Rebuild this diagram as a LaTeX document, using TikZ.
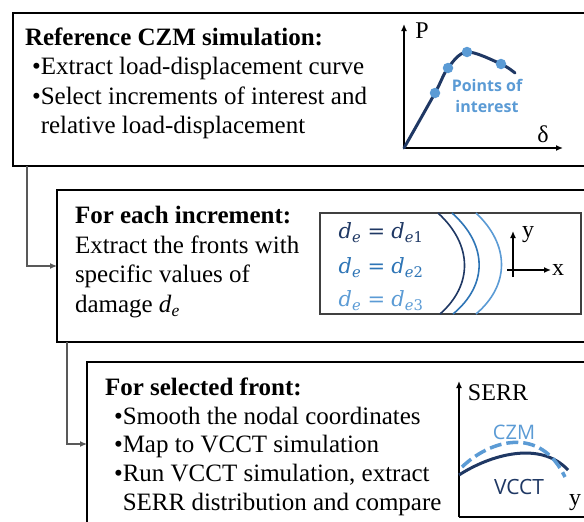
\documentclass[tikz,border=0pt]{standalone}
\usepackage{fontspec}
\setmainfont{Liberation Serif}
\newfontfamily\plotfont{Open Sans}
\newfontfamily\levelfont{DejaVu Serif}
\usetikzlibrary{arrows.meta,positioning}
\definecolor{Navy}{HTML}{1F3864}
\definecolor{MidBlue}{HTML}{2E75B6}
\definecolor{SkyBlue}{HTML}{5B9BD5}
\definecolor{LinkGray}{HTML}{595959}
\definecolor{FrameGray}{HTML}{404040}
\newcommand{\dlevel}[1]{\textit{d}\textsubscript{\textit{e}}\hspace{0.3em}=\hspace{0.3em}\textit{d}\textsubscript{\textit{e}#1}}

\begin{document}
\begin{tikzpicture}[x=1pt,y=-1pt,every node/.style={inner sep=0pt,outer sep=0pt},stage/.style={draw=black,line width=2.6pt,fill=white,anchor=north west},link/.style={draw=LinkGray,line width=1.1pt,-{Latex[length=7pt,width=6pt]}},axis/.style={draw=black,line width=1.6pt,-{Latex[length=7pt,width=6pt]}},body/.style={font=\fontsize{25}{29.3}\selectfont,align=left,anchor=north west},front/.style={line width=1.6pt},poi/.style={circle,fill=SkyBlue,minimum size=10.5pt},plotlabel/.style={font=\fontsize{24}{24}\selectfont},level/.style={font=\levelfont\fontsize{21}{21}\selectfont}]
\useasboundingbox (0,0) rectangle (584,522);
\clip (0,0) rectangle (584,522);
\fill[white] (0,0) rectangle (584,522);
% the three stages
\node[stage,minimum width=620pt,minimum height=153pt] (czm) at (13,13) {};
\node[stage,minimum width=560pt,minimum height=152pt] (incr) at (57,190) {};
\node[stage,minimum width=530pt,minimum height=164pt] (sel) at (87,362) {};
\draw[link] ([xshift=14pt]czm.south west) |- (incr.west);
\draw[link] ([xshift=10pt]incr.south west) |- (sel.west);
% stage texts
\node[body] (czmtext) at (25,28) {\textbf{Reference CZM simulation:}\\[0pt]\hspace*{7pt}\textbullet Extract load-displacement curve\\\hspace*{7pt}\textbullet Select increments of interest and\\\hspace*{7pt}\phantom{\textbullet}relative load-displacement};
\node[body,font=\fontsize{25}{29.7}\selectfont] (incrtext) at (75,206) {\textbf{For each increment:}\\Extract the fronts with\\specific values of\\damage \textit{d}\textsubscript{\textit{e}}};
\node[body,font=\fontsize{25}{28.6}\selectfont] (seltext) at (105,378) {\textbf{For selected front:}\\\hspace*{9pt}\textbullet Smooth the nodal coordinates\\\hspace*{9pt}\textbullet Map to VCCT simulation\\\hspace*{9pt}\textbullet Run VCCT simulation, extract\\\hspace*{9pt}\phantom{\textbullet}SERR distribution and compare};
% load-displacement plot
\coordinate (o1) at (404,148);
\draw[axis] (o1) -- (404,24);
\draw[axis] (o1) -- (563,148);
\node[plotlabel] (pl) at (422,31) {P};
\node[plotlabel] (dl) at (543,134) {δ};
\draw[Navy,line width=3pt,line cap=round] plot[smooth,tension=0.55] coordinates {(404,148) (435,93) (448,68) (467,52) (501,64) (515,73)};
\node[poi] (p1) at (435,93) {}; \node[poi] (p2) at (448,68) {}; \node[poi] (p3) at (467,52) {}; \node[poi] (p4) at (501,64) {};
\node[font=\plotfont\bfseries\fontsize{16}{21}\selectfont,text=SkyBlue,align=center] (poitext) at (487,96) {Points of\\interest};
% damage fronts
\node[draw=FrameGray,line width=1.3pt,anchor=north west,minimum width=261pt,minimum height=101pt] (fronts) at (320,213) {};
\draw[front,Navy] (438,213) .. controls (473,245) and (473,285) .. (440,314);
\draw[front,MidBlue] (452,213) .. controls (488,245) and (488,285) .. (453,314);
\draw[front,SkyBlue] (476,213) .. controls (510,245) and (510,285) .. (476,314);
\node[level,text=Navy] (de1) at (381,233) {\dlevel{1}};
\node[level,text=MidBlue] (de2) at (381,268) {\dlevel{2}};
\node[level,text=SkyBlue] (de3) at (381,301) {\dlevel{3}};
\draw[axis] (507,270) -- (551,270);
\draw[axis] (513,277) -- (513,231);
\node[plotlabel] (yl) at (528,235) {y};
\node[plotlabel] (xl) at (558,270) {x};
% SERR plot
\coordinate (o3) at (459,517);
\draw[axis] (o3) -- (459,381);
\draw[axis] (o3) -- (600,517);
\node[plotlabel] (serr) at (498,393) {SERR};
\node[plotlabel] (y3) at (575,503) {y};
\draw[Navy,line width=3pt] (459,475) .. controls (490,455) and (540,440) .. (568,470);
\draw[SkyBlue,line width=3.5pt,dash pattern=on 12pt off 5pt] (462,467) .. controls (490,440) and (540,425) .. (565,477);
\node[font=\plotfont\fontsize{20}{20}\selectfont,text=SkyBlue] (czml) at (514,432) {CZM};
\node[font=\plotfont\fontsize{21}{21}\selectfont,text=Navy] (vcctl) at (519,487) {VCCT};
\end{tikzpicture}
\end{document}
